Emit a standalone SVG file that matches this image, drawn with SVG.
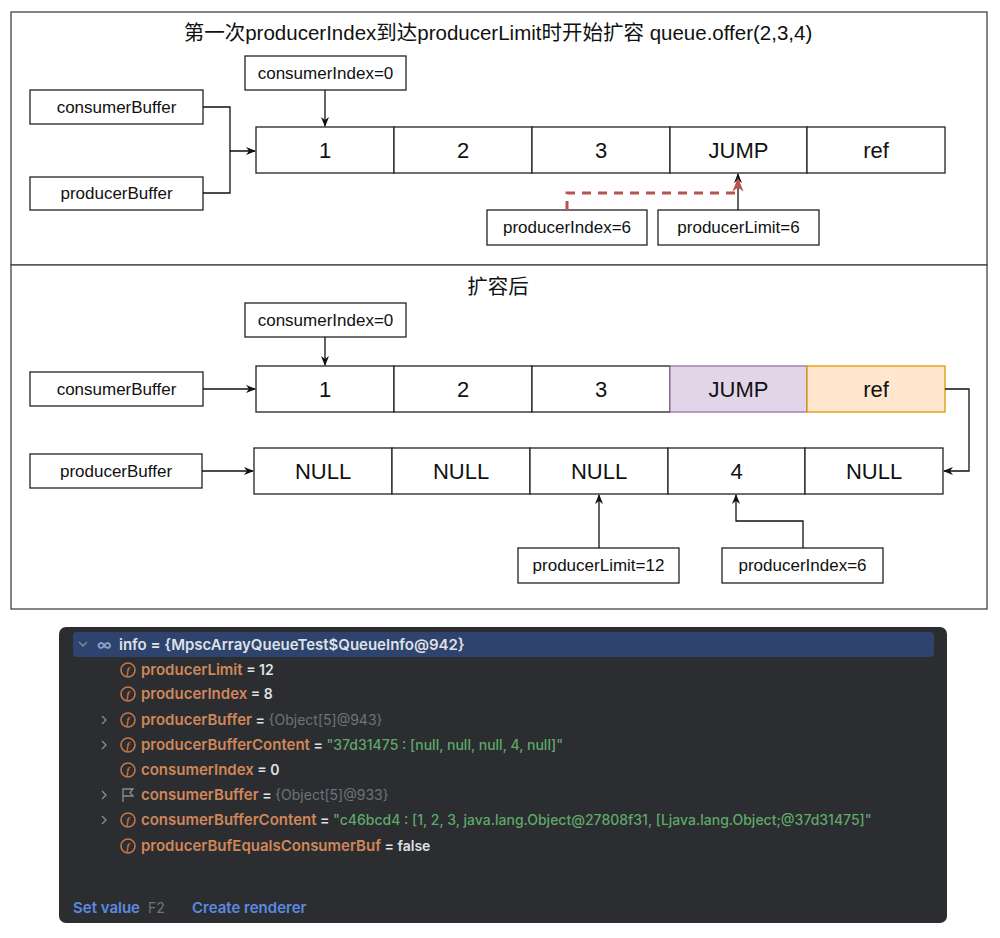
<svg xmlns="http://www.w3.org/2000/svg" width="1000" height="938" viewBox="0 0 1000 938">
<defs>
<style>
.frame{fill:#fff;stroke:#444;stroke-width:1.3}
.box{fill:#fff;stroke:#222;stroke-width:1.3}
.lbl{font-family:"Liberation Sans","Noto Sans CJK SC",sans-serif;font-size:17px;fill:#111;text-anchor:middle;dominant-baseline:central}
.cell{font-family:"Liberation Sans","Noto Sans CJK SC",sans-serif;font-size:22px;fill:#111;text-anchor:middle;dominant-baseline:central}
.title{font-family:"Liberation Sans","Noto Sans CJK SC",sans-serif;font-size:20.5px;fill:#111;text-anchor:middle;dominant-baseline:central}
.edge{fill:none;stroke:#111;stroke-width:1.3}
.red{fill:none;stroke:#b85450;stroke-width:3;stroke-dasharray:9 7}
.dbg{font-family:Inter,"Noto Sans",sans-serif;font-size:15px;font-weight:600}
.nm{fill:#d0875a}
.wh{fill:#dfe1e5}
.v{font-size:14px}
.gr{fill:#6f737a;font-weight:400;font-size:14px}
.st{fill:#5fa86a;font-weight:500;font-size:14px}
.bl{fill:#5a8ae0}
.ico{fill:none;stroke:#c4764a;stroke-width:1.6}
.icot{font-family:"Liberation Serif",serif;font-style:italic;font-weight:bold;font-size:10px;fill:#c4764a;text-anchor:middle;dominant-baseline:central}
.chev{fill:none;stroke:#8b8e94;stroke-width:1.3}
</style>
<marker id="arr" viewBox="0 0 10 10" refX="9" refY="5" markerWidth="10" markerHeight="10" markerUnits="userSpaceOnUse" orient="auto">
<path d="M0,1 L10,5 L0,9 L3,5 Z" fill="#111"/>
</marker>
<marker id="arrRed" viewBox="0 0 10 10" refX="9" refY="5" markerWidth="14" markerHeight="14" markerUnits="userSpaceOnUse" orient="auto">
<path d="M0,1 L10,5 L0,9 L3,5 Z" fill="#b85450"/>
</marker>
</defs>
<rect width="1000" height="938" fill="#fff"/>

<g id="panel1">
<rect class="frame" x="11" y="12" width="976" height="253"/>
<text class="title" x="498" y="32">第一次producerIndex到达producerLimit时开始扩容 queue.offer(2,3,4)</text>
</g>
<g id="panel2">
<rect class="frame" x="11" y="265" width="976" height="344"/>
<text class="title" x="498" y="286">扩容后</text>
</g>

<g id="p1-consumerIndex"><rect class="box" x="245" y="56" width="161" height="34"/><text class="lbl" x="325.5" y="73">consumerIndex=0</text></g>
<g id="p1-consumerBuffer"><rect class="box" x="30" y="90" width="173" height="34"/><text class="lbl" x="116.5" y="107">consumerBuffer</text></g>
<g id="p1-producerBuffer"><rect class="box" x="30" y="177" width="173" height="33"/><text class="lbl" x="116.5" y="193.5">producerBuffer</text></g>
<g id="p1-array">
<rect class="box" x="256" y="127" width="138" height="46"/><text class="cell" x="325" y="150">1</text>
<rect class="box" x="394" y="127" width="138" height="46"/><text class="cell" x="463" y="150">2</text>
<rect class="box" x="532" y="127" width="138" height="46"/><text class="cell" x="601" y="150">3</text>
<rect class="box" x="670" y="127" width="137" height="46"/><text class="cell" x="738.5" y="150">JUMP</text>
<rect class="box" x="807" y="127" width="138" height="46"/><text class="cell" x="876" y="150">ref</text>
</g>
<g id="p1-producerIndex"><rect class="box" x="487" y="210" width="160" height="35"/><text class="lbl" x="567" y="227.5">producerIndex=6</text></g>
<g id="p1-producerLimit"><rect class="box" x="658" y="210" width="161" height="35"/><text class="lbl" x="738.5" y="227.5">producerLimit=6</text></g>

<g id="p2-consumerIndex"><rect class="box" x="245" y="303" width="161" height="34"/><text class="lbl" x="325.5" y="320">consumerIndex=0</text></g>
<g id="p2-consumerBuffer"><rect class="box" x="30" y="372" width="173" height="34"/><text class="lbl" x="116.5" y="389">consumerBuffer</text></g>
<g id="p2-producerBuffer"><rect class="box" x="30" y="454" width="172" height="34"/><text class="lbl" x="116" y="471">producerBuffer</text></g>
<g id="p2-array1">
<rect class="box" x="256" y="366" width="138" height="46"/><text class="cell" x="325" y="389">1</text>
<rect class="box" x="394" y="366" width="138" height="46"/><text class="cell" x="463" y="389">2</text>
<rect class="box" x="532" y="366" width="138" height="46"/><text class="cell" x="601" y="389">3</text>
<rect x="670" y="366" width="137" height="46" fill="#e1d5e7" stroke="#9673a6" stroke-width="1.3"/><text class="cell" x="738.5" y="389">JUMP</text>
<rect x="807" y="366" width="138" height="46" fill="#ffe6cc" stroke="#d79b00" stroke-width="1.3"/><text class="cell" x="876" y="389">ref</text>
</g>
<g id="p2-array2">
<rect class="box" x="254" y="448" width="138" height="46"/><text class="cell" x="323" y="471">NULL</text>
<rect class="box" x="392" y="448" width="138" height="46"/><text class="cell" x="461" y="471">NULL</text>
<rect class="box" x="530" y="448" width="138" height="46"/><text class="cell" x="599" y="471">NULL</text>
<rect class="box" x="668" y="448" width="137" height="46"/><text class="cell" x="736.5" y="471">4</text>
<rect class="box" x="805" y="448" width="138" height="46"/><text class="cell" x="874" y="471">NULL</text>
</g>
<g id="p2-producerLimit"><rect class="box" x="518" y="548" width="161" height="35"/><text class="lbl" x="598.5" y="565.5">producerLimit=12</text></g>
<g id="p2-producerIndex"><rect class="box" x="722" y="548" width="161" height="35"/><text class="lbl" x="802.5" y="565.5">producerIndex=6</text></g>

<g id="connectors">
<path class="edge" d="M325,90 V126" marker-end="url(#arr)"/>
<path class="edge" d="M203,107 H230 V151 H255" marker-end="url(#arr)"/>
<path class="edge" d="M203,193 H230 V151"/>
<path class="edge" d="M738,210 V174" marker-end="url(#arr)"/>
<path class="red" d="M567,210 V193 H738 V179" marker-end="url(#arrRed)"/>
<path class="edge" d="M325,337 V365" marker-end="url(#arr)"/>
<path class="edge" d="M203,389 H255" marker-end="url(#arr)"/>
<path class="edge" d="M202,471 H253" marker-end="url(#arr)"/>
<path class="edge" d="M945,389 H969 V471 H944" marker-end="url(#arr)"/>
<path class="edge" d="M599,548 V495" marker-end="url(#arr)"/>
<path class="edge" d="M803,548 V521 H736 V495" marker-end="url(#arr)"/>
</g>

<g id="debugger">
<rect x="59" y="627" width="888" height="296" rx="7" fill="#2b2d30"/>
<rect x="73" y="632" width="861" height="25" rx="4" fill="#2e436e"/>
<path class="chev" d="M79,642 L83,646 L87,642"/>
<text class="dbg" x="97" y="650" fill="#8fa3c7" font-weight="400">∞</text>
<text class="dbg wh" x="119" y="650" font-size="14.5">info = {MpscArrayQueueTest$QueueInfo@942}</text>

<g id="row-producerLimit"><circle class="ico" cx="128" cy="670" r="7"/><text class="icot" x="128" y="670">f</text><text class="dbg" x="141" y="675"><tspan class="nm">producerLimit</tspan><tspan class="wh v"> = 12</tspan></text></g>
<g id="row-producerIndex"><circle class="ico" cx="128" cy="694" r="7"/><text class="icot" x="128" y="694">f</text><text class="dbg" x="141" y="699"><tspan class="nm">producerIndex</tspan><tspan class="wh v"> = 8</tspan></text></g>
<g id="row-producerBuffer"><path class="chev" d="M102,716 L106,720 L102,724"/><circle class="ico" cx="128" cy="720" r="7"/><text class="icot" x="128" y="720">f</text><text class="dbg" x="141" y="725"><tspan class="nm">producerBuffer</tspan><tspan class="wh v"> = </tspan><tspan class="gr">{Object[5]@943}</tspan></text></g>
<g id="row-producerBufferContent"><path class="chev" d="M102,741 L106,745 L102,749"/><circle class="ico" cx="128" cy="745" r="7"/><text class="icot" x="128" y="745">f</text><text class="dbg" x="141" y="750"><tspan class="nm">producerBufferContent</tspan><tspan class="wh v"> = </tspan><tspan class="st">"37d31475 : [null, null, null, 4, null]"</tspan></text></g>
<g id="row-consumerIndex"><circle class="ico" cx="128" cy="770" r="7"/><text class="icot" x="128" y="770">f</text><text class="dbg" x="141" y="775"><tspan class="nm">consumerIndex</tspan><tspan class="wh v"> = 0</tspan></text></g>
<g id="row-consumerBuffer"><path class="chev" d="M102,791 L106,795 L102,799"/><path d="M123,802 V789 H133 L130,792.5 L133,796 H123" fill="none" stroke="#8b8e94" stroke-width="1.3"/><text class="dbg" x="141" y="800"><tspan class="nm">consumerBuffer</tspan><tspan class="wh v"> = </tspan><tspan class="gr">{Object[5]@933}</tspan></text></g>
<g id="row-consumerBufferContent"><path class="chev" d="M102,816 L106,820 L102,824"/><circle class="ico" cx="128" cy="820" r="7"/><text class="icot" x="128" y="820">f</text><text class="dbg" x="141" y="825"><tspan class="nm">consumerBufferContent</tspan><tspan class="wh v"> = </tspan><tspan class="st">"c46bcd4 : [1, 2, 3, java.lang.Object@27808f31, [Ljava.lang.Object;@37d31475]"</tspan></text></g>
<g id="row-equals"><circle class="ico" cx="128" cy="846" r="7"/><text class="icot" x="128" y="846">f</text><text class="dbg" x="141" y="851"><tspan class="nm">producerBufEqualsConsumerBuf</tspan><tspan class="wh v"> = false</tspan></text></g>
<text class="dbg" x="73" y="913"><tspan class="bl">Set value</tspan><tspan class="gr" x="148">F2</tspan><tspan class="bl" x="192">Create renderer</tspan></text>
</g>
</svg>
